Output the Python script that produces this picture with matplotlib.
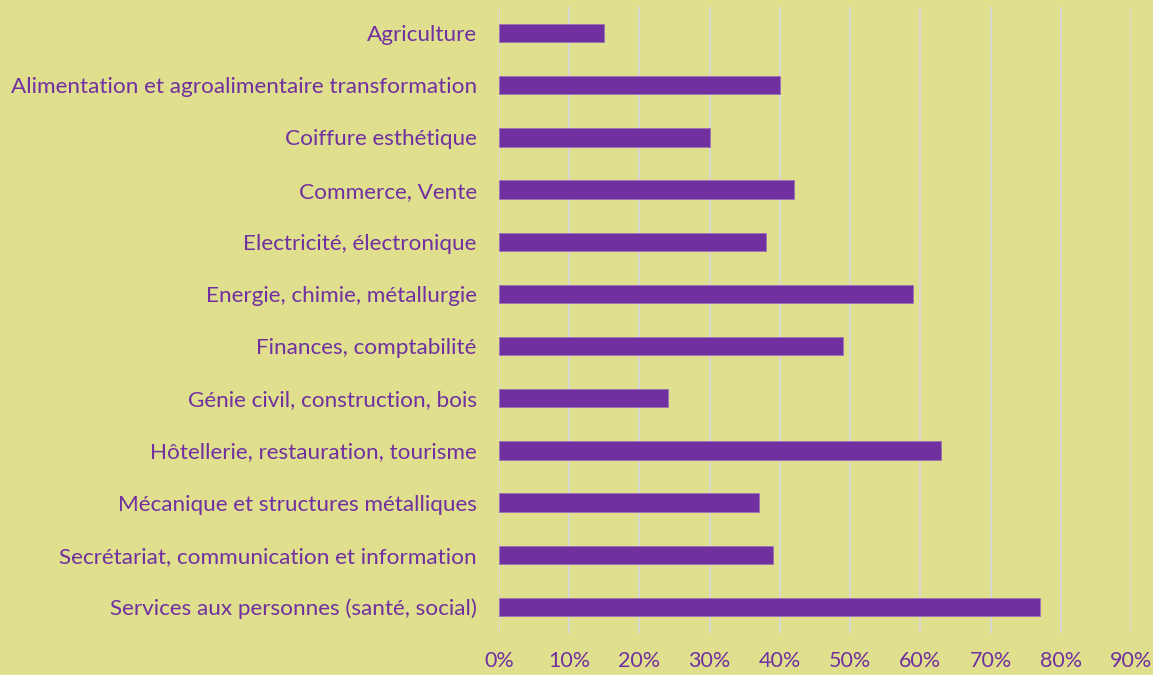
import matplotlib
matplotlib.use("Agg")
import matplotlib.pyplot as plt
from matplotlib.ticker import PercentFormatter

# donnees
categories = ["Agriculture",
              "Alimentation et agroalimentaire transformation",
              "Coiffure esthétique",
              "Commerce, Vente",
              "Electricité, électronique",
              "Energie, chimie, métallurgie",
              "Finances, comptabilité",
              "Génie civil, construction, bois",
              "Hôtellerie, restauration, tourisme",
              "Mécanique et structures métalliques",
              "Secrétariat, communication et information",
              "Services aux personnes (santé, social)"]
valeurs = [15, 40, 30, 42, 38, 59, 49, 24, 63, 37, 39, 77]
ticks = [0, 10, 20, 30, 40, 50, 60, 70, 80, 90]

fond = "#E0DF8E"
violet = "#7030A0"

plt.rcParams['font.family'] = ['Lato', 'DejaVu Sans']

fig = plt.figure(figsize=(11.53, 6.75), dpi=100, facecolor=fond)
ax = fig.add_axes([0.4328, 0.0622, 0.5482, 0.9274])
ax.set_facecolor(fond)

pos = list(range(len(categories)))
ax.barh(pos, valeurs, height=0.35, color=violet, edgecolor="#9B72B8", linewidth=0.6, zorder=3)

ax.set_ylim(len(categories) - 0.5, -0.5)
ax.set_xlim(0, 90)
ax.set_xticks(ticks)
ax.xaxis.set_major_formatter(PercentFormatter(decimals=0))
ax.set_yticks(pos)
ax.set_yticklabels(categories)

ax.grid(axis="x", color="#D9D9D9", linewidth=1.3, zorder=0)
ax.grid(axis="y", visible=False)
for s in ax.spines.values():
    s.set_visible(False)

ax.tick_params(axis="y", length=0, pad=16, labelsize=16.2, labelcolor=violet)
ax.tick_params(axis="x", length=0, pad=13, labelsize=15.5, labelcolor=violet)

fig.savefig("out.png", dpi=100, facecolor=fond)
